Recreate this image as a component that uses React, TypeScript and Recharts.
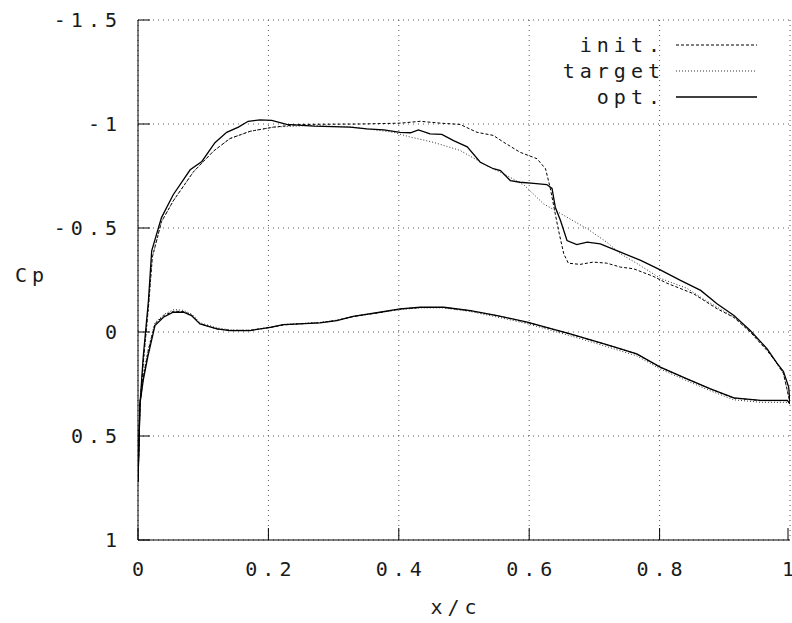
import { CartesianGrid, Line, LineChart, XAxis, YAxis } from "recharts";

// x/c and Cp, leading edge -> trailing edge
const optUpper: [number, number][] = [
  [0, 0.72], [0.003, 0.35], [0.008, 0.12], [0.016, -0.15], [0.021, -0.39],
  [0.036, -0.55], [0.054, -0.66], [0.08, -0.78], [0.098, -0.82], [0.118, -0.91],
  [0.136, -0.96], [0.154, -0.985], [0.169, -1.013], [0.187, -1.02], [0.205, -1.017],
  [0.228, -0.998], [0.27, -0.99], [0.325, -0.985], [0.351, -0.977], [0.377, -0.972],
  [0.402, -0.96], [0.418, -0.958], [0.43, -0.972], [0.448, -0.953], [0.466, -0.95],
  [0.484, -0.92], [0.505, -0.89], [0.525, -0.816], [0.545, -0.785], [0.556, -0.776],
  [0.566, -0.744], [0.571, -0.728], [0.586, -0.72], [0.607, -0.715], [0.627, -0.709],
  [0.635, -0.69], [0.64, -0.6], [0.648, -0.536], [0.658, -0.44], [0.673, -0.42],
  [0.689, -0.432], [0.709, -0.424], [0.74, -0.384], [0.771, -0.344], [0.801, -0.299],
  [0.832, -0.248], [0.863, -0.2], [0.888, -0.136], [0.914, -0.079], [0.939, -0.007],
  [0.965, 0.081], [0.98, 0.15], [0.99, 0.19], [0.998, 0.265], [1.0, 0.345],
];

const initUpper: [number, number][] = [
  [0, 0.72], [0.003, 0.35], [0.008, 0.15], [0.016, -0.12], [0.022, -0.36],
  [0.036, -0.53], [0.054, -0.63], [0.085, -0.77], [0.116, -0.87], [0.141, -0.93],
  [0.172, -0.965], [0.208, -0.985], [0.249, -0.998], [0.341, -1.0], [0.402, -1.004],
  [0.433, -1.013], [0.464, -1.004], [0.494, -0.998], [0.52, -0.96], [0.545, -0.945],
  [0.561, -0.912], [0.586, -0.864], [0.612, -0.833], [0.625, -0.785], [0.632, -0.696],
  [0.64, -0.568], [0.645, -0.488], [0.653, -0.376], [0.66, -0.331], [0.678, -0.325],
  [0.698, -0.336], [0.719, -0.331], [0.74, -0.312], [0.76, -0.304], [0.79, -0.268],
  [0.811, -0.235], [0.852, -0.184], [0.888, -0.112], [0.914, -0.07], [0.939, 0.0],
  [0.965, 0.09], [0.98, 0.15], [0.99, 0.2], [1.0, 0.34],
];

const targetUpper: [number, number][] = [
  [0, 0.72], [0.003, 0.35], [0.008, 0.15], [0.016, -0.12], [0.022, -0.36],
  [0.036, -0.53], [0.054, -0.63], [0.085, -0.77], [0.116, -0.87], [0.141, -0.93],
  [0.172, -0.965], [0.208, -0.985], [0.264, -0.993], [0.33, -0.985], [0.392, -0.96],
  [0.418, -0.937], [0.453, -0.912], [0.494, -0.873], [0.535, -0.8], [0.566, -0.752],
  [0.593, -0.704], [0.622, -0.616], [0.658, -0.552], [0.689, -0.496], [0.719, -0.432],
  [0.74, -0.376], [0.765, -0.33], [0.801, -0.258], [0.842, -0.21], [0.863, -0.167],
  [0.914, -0.071], [0.939, 0.0], [0.965, 0.085], [0.99, 0.2], [1.0, 0.34],
];

const optLower: [number, number][] = [
  [0, 0.72], [0.003, 0.345], [0.008, 0.233], [0.015, 0.12], [0.026, -0.031],
  [0.039, -0.071], [0.054, -0.095], [0.07, -0.095], [0.082, -0.079], [0.095, -0.039],
  [0.121, -0.015], [0.141, -0.007], [0.172, -0.007], [0.203, -0.022], [0.223, -0.035],
  [0.279, -0.044], [0.305, -0.055], [0.33, -0.075], [0.371, -0.095], [0.402, -0.111],
  [0.433, -0.119], [0.469, -0.119], [0.51, -0.103], [0.551, -0.079], [0.597, -0.047],
  [0.663, 0.009], [0.724, 0.065], [0.765, 0.105], [0.801, 0.169], [0.842, 0.225],
  [0.878, 0.273], [0.914, 0.317], [0.955, 0.329], [0.996, 0.329], [1.0, 0.345],
];

const initLower: [number, number][] = [
  [0, 0.72], [0.003, 0.345], [0.008, 0.22], [0.015, 0.1], [0.026, -0.04],
  [0.04, -0.08], [0.055, -0.1], [0.07, -0.098], [0.083, -0.08], [0.095, -0.04],
  [0.121, -0.015], [0.141, -0.008], [0.172, -0.008], [0.203, -0.022], [0.223, -0.034],
  [0.279, -0.045], [0.305, -0.056], [0.33, -0.074], [0.371, -0.094], [0.402, -0.11],
  [0.433, -0.118], [0.469, -0.118], [0.51, -0.102], [0.551, -0.078], [0.597, -0.046],
  [0.663, 0.01], [0.724, 0.066], [0.765, 0.106], [0.801, 0.17], [0.842, 0.226],
  [0.878, 0.274], [0.914, 0.318], [0.955, 0.33], [0.996, 0.33], [1.0, 0.345],
];

const targetLower: [number, number][] = [
  [0, 0.72], [0.003, 0.345], [0.008, 0.21], [0.015, 0.09], [0.026, -0.045],
  [0.04, -0.085], [0.055, -0.108], [0.07, -0.104], [0.083, -0.085], [0.095, -0.045],
  [0.121, -0.02], [0.141, -0.01], [0.172, -0.009], [0.203, -0.024], [0.223, -0.036],
  [0.279, -0.046], [0.305, -0.057], [0.33, -0.075], [0.371, -0.094], [0.402, -0.108],
  [0.433, -0.116], [0.469, -0.116], [0.51, -0.098], [0.551, -0.072], [0.597, -0.04],
  [0.663, 0.018], [0.724, 0.075], [0.765, 0.115], [0.801, 0.178], [0.842, 0.235],
  [0.878, 0.283], [0.914, 0.326], [0.955, 0.338], [0.996, 0.338], [1.0, 0.345],
];

const xTicks = [0, 0.2, 0.4, 0.6, 0.8, 1];
const yTicks = [-1.5, -1, -0.5, 0, 0.5, 1];

const font = "'DejaVu Sans Mono', monospace";
const fontSize = 20;
const spacing = 5;
const ink = "#1a1a1a";

const toRows = (pts: [number, number][]) => pts.map(([x, cp]) => ({ x, cp }));

const series = [
  { name: "init.", dash: "3 2", width: 1, color: "#000", upper: initUpper, lower: initLower },
  { name: "target", dash: "1 2", width: 1, color: "#333", upper: targetUpper, lower: targetLower },
  { name: "opt.", dash: undefined, width: 1.3, color: "#000", upper: optUpper, lower: optLower },
];

const fmt = (v: number) => String(v);

const Label = ({ x, y, anchor = "middle", children }: any) => (
  <text x={x} y={y} textAnchor={anchor} dominantBaseline="central" fontFamily={font}
    fontSize={fontSize} letterSpacing={spacing} fill={ink}>
    {children}
  </text>
);

const BottomTick = (props: any) => {
  const { x, y, payload } = props;
  return (
    <g>
      <line x1={x} y1={y} x2={x} y2={y - 12} stroke="#000" />
      <Label x={x + spacing / 2} y={y + 29}>{fmt(payload.value)}</Label>
    </g>
  );
};

const TopTick = (props: any) => {
  const { x, y } = props;
  return <line x1={x} y1={y} x2={x} y2={y + 12} stroke="#000" />;
};

const LeftTick = (props: any) => {
  const { x, y, payload } = props;
  return (
    <g>
      <line x1={x} y1={y} x2={x + 12} y2={y} stroke="#000" />
      <Label x={x - 16} y={y} anchor="end">{fmt(payload.value)}</Label>
    </g>
  );
};

const RightTick = (props: any) => {
  const { x, y } = props;
  return <line x1={x} y1={y} x2={x - 12} y2={y} stroke="#000" />;
};

function KeyBox() {
  return (
    <svg width={240} height={90} style={{ position: "absolute", left: 535, top: 30 }}>
      {series.map((s, i) => (
        <g key={s.name}>
          <Label x={130} y={15 + i * 26} anchor="end">{s.name}</Label>
          <line x1={141} x2={222} y1={15 + i * 26} y2={15 + i * 26}
            stroke={s.color} strokeWidth={s.width} strokeDasharray={s.dash} />
        </g>
      ))}
    </svg>
  );
}

export default function App() {
  return (
    <div style={{ position: "absolute", left: 0, top: 0, width: 792, height: 623, background: "#fff" }}>
      <LineChart width={792} height={623} margin={{ top: 20, right: 2, bottom: 0, left: 0 }}>
        <CartesianGrid xAxisId="b" yAxisId="l" stroke="#555" strokeDasharray="1 4" />
        <XAxis xAxisId="b" type="number" dataKey="x" domain={[0, 1]} ticks={xTicks}
          height={83} tickSize={0} tickMargin={0} tick={<BottomTick />}
          axisLine={{ stroke: "#000" }} allowDataOverflow
          label={({ viewBox }: any) => (
            <Label x={viewBox.x + viewBox.width / 2 - 8} y={viewBox.y + 67}>x/c</Label>
          )} />
        <XAxis xAxisId="t" orientation="top" type="number" dataKey="x" domain={[0, 1]} ticks={xTicks}
          height={0} tickSize={0} tickMargin={0} tick={<TopTick />} axisLine={{ stroke: "#000" }} />
        <YAxis yAxisId="l" type="number" dataKey="cp" domain={[-1.5, 1]} ticks={yTicks} reversed
          width={138} tickSize={0} tickMargin={0} tick={<LeftTick />} axisLine={{ stroke: "#000" }}
          allowDataOverflow
          label={({ viewBox }: any) => (
            <Label x={32} y={viewBox.y + viewBox.height / 2 - 5}>Cp</Label>
          )} />
        <YAxis yAxisId="r" orientation="right" type="number" dataKey="cp" domain={[-1.5, 1]} ticks={yTicks}
          reversed width={0} tickSize={0} tickMargin={0} tick={<RightTick />} axisLine={{ stroke: "#000" }} />
        {series.flatMap((s) => [
          <Line key={s.name + "u"} xAxisId="b" yAxisId="l" data={toRows(s.upper)} dataKey="cp"
            type="linear" stroke={s.color} strokeWidth={s.width} strokeDasharray={s.dash}
            dot={false} isAnimationActive={false} legendType="none" />,
          <Line key={s.name + "l"} xAxisId="b" yAxisId="l" data={toRows(s.lower)} dataKey="cp"
            type="linear" stroke={s.color} strokeWidth={s.width} strokeDasharray={s.dash}
            dot={false} isAnimationActive={false} legendType="none" />,
        ])}
      </LineChart>
      <KeyBox />
    </div>
  );
}
